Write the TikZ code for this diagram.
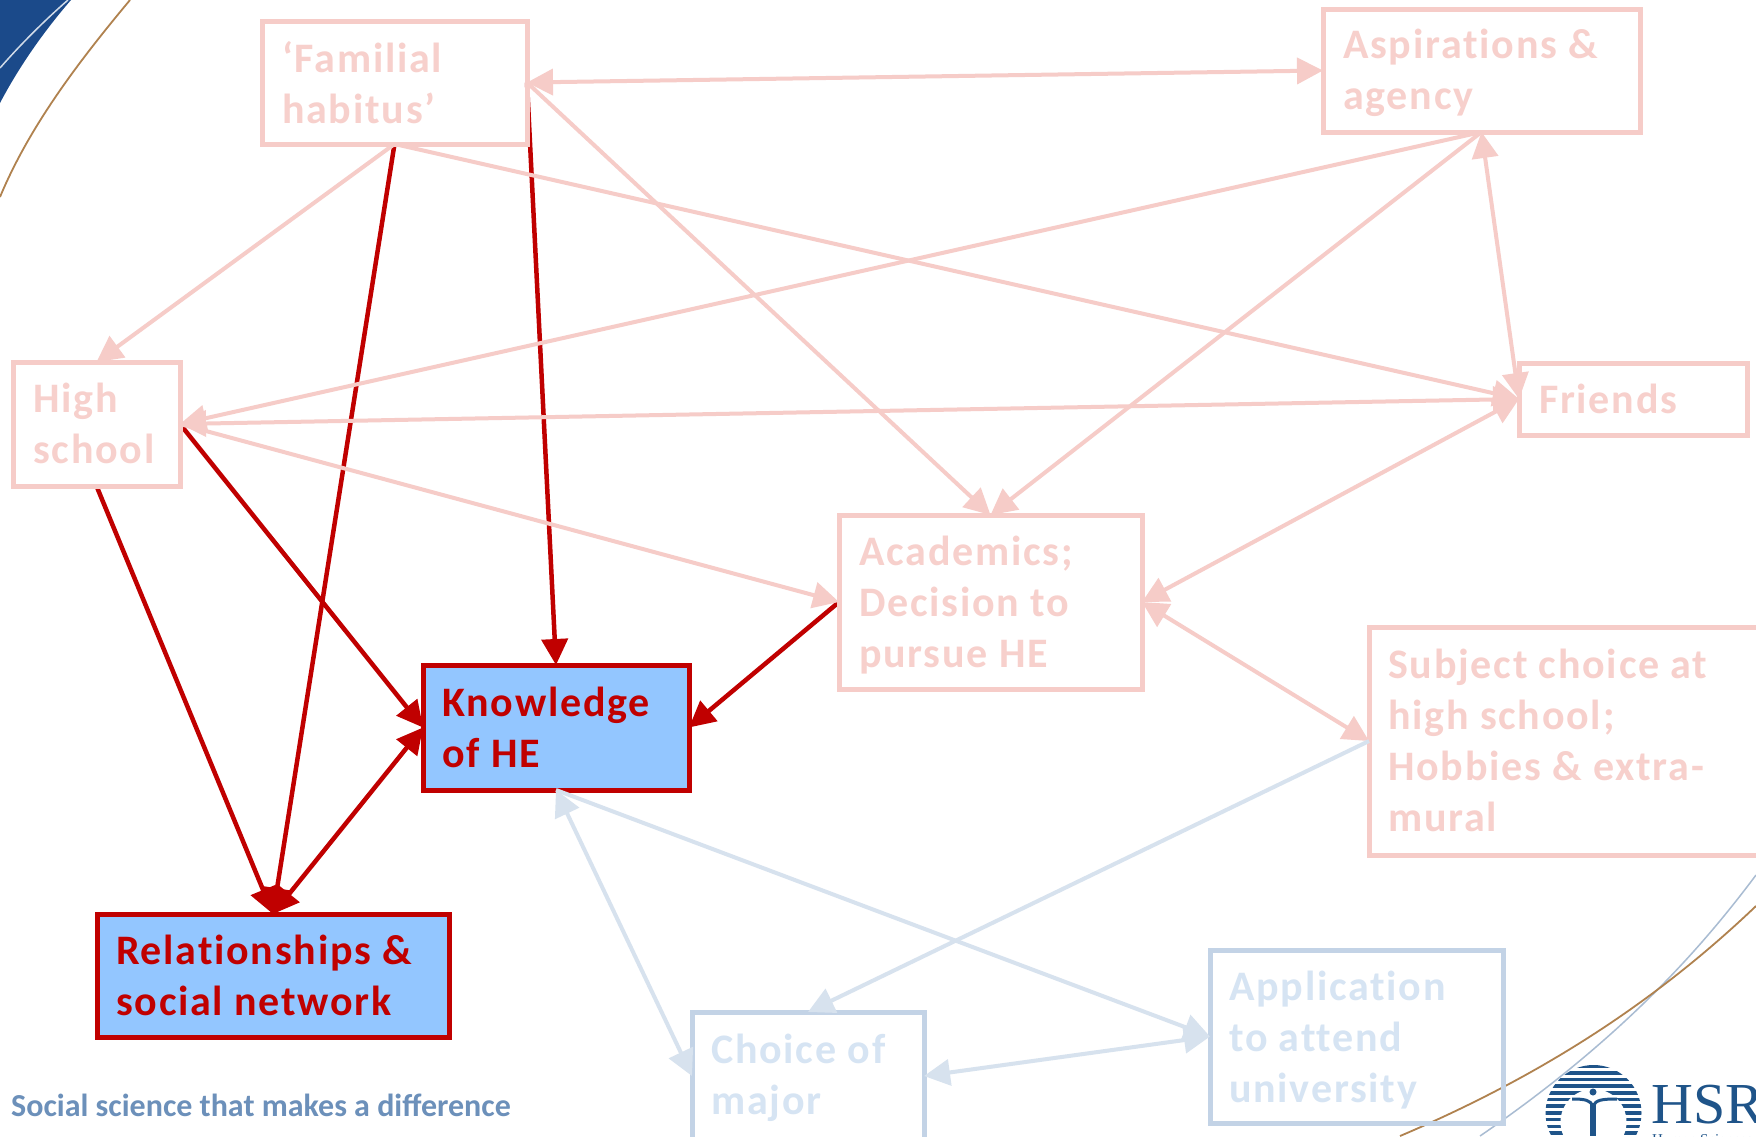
\documentclass[tikz,border=0pt]{standalone}
\usepackage{fontspec}
\usetikzlibrary{arrows.meta}
\setmainfont{Carlito}
\newfontfamily\logofont{Liberation Serif}
\definecolor{pinkc}{HTML}{F6CCC8}
\definecolor{pinkt}{HTML}{F7D0CC}
\definecolor{bluel}{HTML}{D7E2EE}
\definecolor{blueb}{HTML}{C3D3E6}
\definecolor{bluet}{HTML}{D6E4F3}
\definecolor{redc}{HTML}{C00000}
\definecolor{fillb}{HTML}{93C6FF}
\definecolor{tag}{HTML}{6C90BA}
\definecolor{navy}{HTML}{1B4A8A}
\definecolor{brownc}{HTML}{B0824F}
\definecolor{grayc}{HTML}{A9BCD2}
\definecolor{logoc}{HTML}{1F5489}
\pgfdeclarelayer{low}
\pgfsetlayers{low,main}
\tikzset{
  lab/.style={font=\fontsize{42}{51}\selectfont\bfseries\addfontfeature{LetterSpace=4.2,Ligatures=NoCommon},align=left,anchor=north west,inner sep=0pt},
  boxp/.style={draw=pinkc,line width=5pt,rectangle,inner sep=0pt,outer sep=0pt},
  boxb/.style={draw=blueb,line width=5pt,rectangle,inner sep=0pt,outer sep=0pt},
  boxr/.style={draw=redc,line width=5pt,fill=fillb,rectangle,inner sep=0pt,outer sep=0pt},
  tip/.tip={Triangle[length=26pt,width=26pt]},
  pl/.style={draw=pinkc,line width=4pt},
  bl/.style={draw=bluel,line width=4pt},
  rl/.style={draw=redc,line width=4.5pt},
}
\begin{document}
\begin{tikzpicture}[x=1pt,y=-1pt]
\useasboundingbox (0,0) rectangle (1756,1136);
\clip (0,0) rectangle (1756,1136);
% boxes
\node[boxp,minimum width=265pt,minimum height=123pt] (fam) at (394.5,82.5) {};
\node[boxp,minimum width=317pt,minimum height=123pt] (asp) at (1481.5,70.5) {};
\node[boxp,minimum width=167pt,minimum height=124pt] (high) at (96.5,424) {};
\node[boxp,minimum width=228pt,minimum height=72pt] (fri) at (1633,399) {};
\node[boxp,minimum width=303pt,minimum height=174pt] (aca) at (990.5,602) {};
\node[boxp,minimum width=394pt,minimum height=228pt] (sub) at (1566,741) {};
\node[boxb,minimum width=232pt,minimum height=128pt] (cho) at (808,1076) {};
\node[boxb,minimum width=293pt,minimum height=173pt] (app) at (1356.5,1036.5) {};
\node[boxr,minimum width=266pt,minimum height=125pt] (kno) at (556,727.5) {};
\node[boxr,minimum width=352pt,minimum height=123pt] (rel) at (273,975.5) {};
\begin{pgfonlayer}{low}
\fill[white] (0,0) rectangle (1756,1136);
% decorative corner
\fill[navy] (0,0) -- (71,0) .. controls (45,30) and (20,65) .. (0,103) -- cycle;
\draw[white!80!navy,line width=1.5pt] (68,0) .. controls (45,20) and (20,45) .. (0,68);
\draw[brownc,line width=1.8pt] (130,0) .. controls (80,60) and (30,125) .. (0,197);
\draw[grayc,line width=1.5pt] (1756,875) .. controls (1700,950) and (1620,1040) .. (1480,1136);
\draw[brownc,line width=1.8pt] (1756,906) .. controls (1670,988) and (1560,1068) .. (1400,1136);
% logo
\begin{scope}
\clip (1593.5,1113) circle (48);
\foreach \yy in {1066,1072.7,...,1162} \draw[logoc,line width=3.6pt] (1540,\yy) -- (1650,\yy);
\fill[white] (1593.5,1122) circle (33);
\end{scope}
\fill[logoc] (1593,1092) circle (3.5);
\draw[logoc,line width=3pt] (1572,1099) .. controls (1585,1099) and (1590,1100) .. (1593,1106) .. controls (1596,1100) and (1601,1099) .. (1617,1099);
\fill[logoc] (1590,1104) rectangle (1596,1136);
% red connectors lie under the pink ones
\draw[rl,-{tip}] (fam.south) -- (rel.north);
\draw[rl,-{tip}] (fam.east) -- (kno.north);
\draw[rl,-{tip}] (high.south) -- (rel.north);
\draw[rl,-{tip}] (high.east) -- (kno.west);
\draw[rl,{tip}-{tip}] (rel.north) -- (kno.west);
\draw[rl,-{tip}] (aca.west) -- (kno.east);
\end{pgfonlayer}
\node[anchor=base west,inner sep=0pt,text=logoc,font=\logofont\fontsize{58}{58}\selectfont] (logo) at (1651,1123) {HSRC};
\node[anchor=base west,inner sep=0pt,text=logoc,font=\logofont\fontsize{15}{15}\selectfont] (logosub) at (1652,1144) {Human Sciences};
% connectors
\draw[pl,{tip}-{tip}] (fam.east) -- (asp.west);
\draw[pl,-{tip}] (fam.south) -- (high.north);
\draw[pl,-{tip}] (fam.south) -- (fri.west);
\draw[pl,-{tip}] (fam.east) -- (aca.north);
\draw[pl,-{tip}] (asp.south) -- (high.east);
\draw[pl,-{tip}] (asp.south) -- (aca.north);
\draw[pl,{tip}-{tip}] (asp.south) -- (fri.west);
\draw[pl,{tip}-{tip}] (high.east) -- (fri.west);
\draw[pl,-{tip}] (high.east) -- (aca.west);
\draw[pl,{tip}-{tip}] (aca.east) -- (fri.west);
\draw[pl,{tip}-{tip}] (aca.east) -- (sub.west);
\draw[bl,{tip}-{tip}] (kno.south) -- (cho.west);
\draw[bl,-{tip}] (kno.south) -- (app.west);
\draw[bl,-{tip}] (sub.west) -- (cho.north);
\draw[bl,{tip}-{tip}] (app.west) -- (cho.east);
% labels
\node[lab,text=pinkt] (tfam) at (282,41) {‘Familial\\habitus’};
\node[lab,text=pinkt] (tasp) at (1343,29) {Aspirations \&\\agency};
\node[lab,text=pinkt] (thigh) at (33,383) {High\\school};
\node[lab,text=pinkt] (tfri) at (1539,384) {Friends};
\node[lab,text=pinkt] (taca) at (859,536) {Academics;\\Decision to\\pursue HE};
\node[lab,text=pinkt] (tsub) at (1388,649) {Subject choice at\\high school;\\Hobbies \& extra-\\mural};
\node[lab,text=bluet] (tcho) at (711,1034) {Choice of\\major};
\node[lab,text=bluet] (tapp) at (1229,971) {Application\\to attend\\university};
\node[lab,text=redc] (tkno) at (442,687) {Knowledge\\of HE};
\node[lab,text=redc] (trel) at (116,935) {Relationships \&\\social network};
\node[anchor=base west,inner sep=0pt,text=tag,font=\fontsize{32}{36}\selectfont\bfseries] (tagl) at (11,1116) {Social science that makes a difference};
\end{tikzpicture}
\end{document}
